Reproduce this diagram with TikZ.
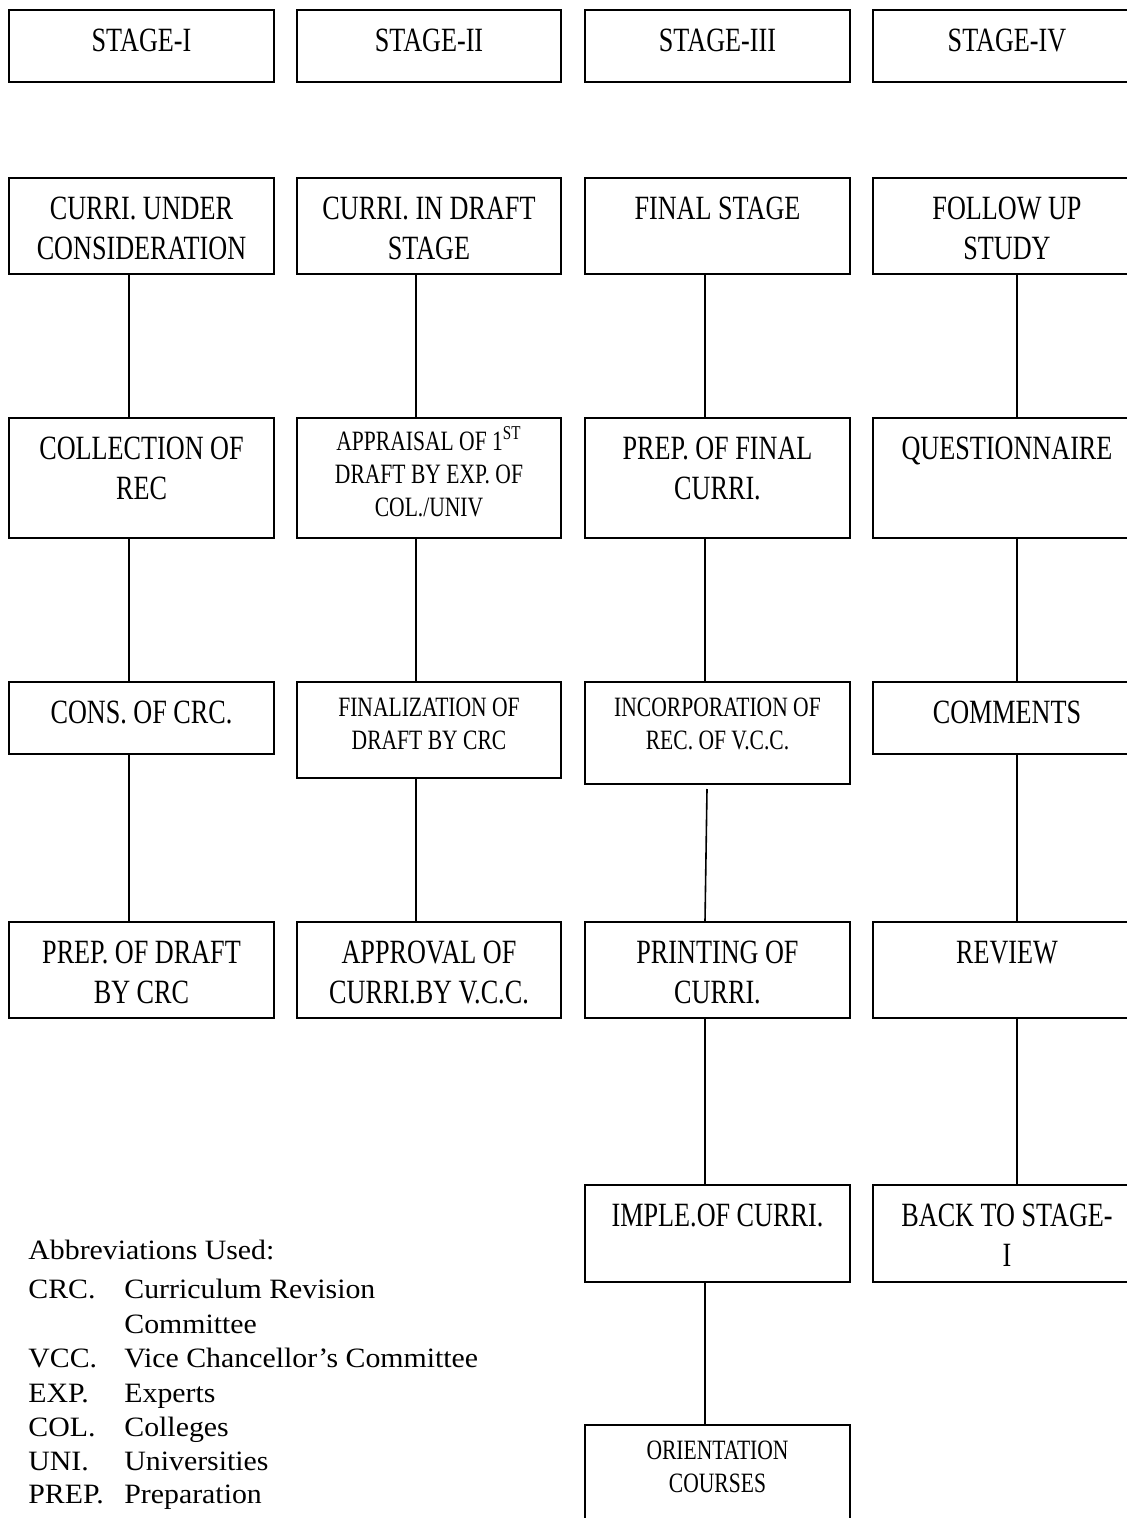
\documentclass[tikz,border=0pt]{standalone}
\usepackage{fontspec}
\setmainfont{Liberation Serif}
\newfontfamily\boxfam[FakeStretch=0.77]{Liberation Serif}
\newfontfamily\abbrfam[FakeStretch=1.065]{Liberation Serif}
\newcommand\bigf{\boxfam\fontsize{17pt}{20pt}\selectfont}
\newcommand\smallf{\boxfam\fontsize{14pt}{16.5pt}\selectfont}
\newcommand\abbf{\abbrfam\fontsize{14pt}{17pt}\selectfont}
\newcommand\bt[1]{\parbox[t]{130pt}{\centering\bigf\strut #1}}
\newcommand\st[1]{\parbox[t]{130pt}{\centering\smallf\strut #1}}
\tikzset{
  box/.style={draw, line width=1pt, inner sep=0pt, anchor=north west},
  wa/.style={minimum width=132.5pt},
  wb/.style={minimum width=132pt},
  wc/.style={minimum width=132.5pt},
  wd/.style={minimum width=134pt},
  La/.style={text height=20.6pt, text depth=15.4pt},
  Lb/.style={text height=20.6pt, text depth=27.4pt},
  Lc/.style={text height=20.6pt, text depth=39.4pt},
  Ld/.style={text height=20.6pt, text depth=27.9pt},
  Sa/.style={text height=17.1pt, text depth=30.9pt},
  Sb/.style={text height=17.1pt, text depth=33.9pt},
  Sc/.style={text height=16.1pt, text depth=43.9pt},
  Sd/.style={text height=17.1pt, text depth=50.9pt},
  conn/.style={line width=0.8pt},
  abbr/.style={anchor=base west, inner sep=0pt, font=\abbf}
}
\begin{document}
\begin{tikzpicture}[x=0.5pt, y=-0.5pt]
\path[use as bounding box, clip] (0,0) rectangle (1127,1518);
% row 0
\node[box, wa, La] (c1r0) at (8,9) {\bt{STAGE-I}};
\node[box, wb, La] (c2r0) at (296,9) {\bt{STAGE-II}};
\node[box, wc, La] (c3r0) at (584,9) {\bt{STAGE-III}};
\node[box, wd, La] (c4r0) at (872,9) {\bt{STAGE-IV}};
% row 1
\node[box, wa, Lb] (c1r1) at (8,177) {\bt{CURRI. UNDER\\CONSIDERATION}};
\node[box, wb, Lb] (c2r1) at (296,177) {\bt{CURRI. IN DRAFT\\STAGE}};
\node[box, wc, Lb] (c3r1) at (584,177) {\bt{FINAL STAGE}};
\node[box, wd, Lb] (c4r1) at (872,177) {\bt{FOLLOW UP\\STUDY}};
% row 2
\node[box, wa, Lc] (c1r2) at (8,417) {\bt{COLLECTION OF\\REC}};
\node[box, wb, Sc] (c2r2) at (296,417) {\st{APPRAISAL OF 1\textsuperscript{ST}\\DRAFT BY EXP. OF\\COL./UNIV}};
\node[box, wc, Lc] (c3r2) at (584,417) {\bt{PREP. OF FINAL\\CURRI.}};
\node[box, wd, Lc] (c4r2) at (872,417) {\bt{QUESTIONNAIRE}};
% row 3
\node[box, wa, La] (c1r3) at (8,681) {\bt{CONS. OF CRC.}};
\node[box, wb, Sa] (c2r3) at (296,681) {\st{FINALIZATION OF\\DRAFT BY CRC}};
\node[box, wc, Sb] (c3r3) at (584,681) {\st{INCORPORATION OF\\REC. OF V.C.C.}};
\node[box, wd, La] (c4r3) at (872,681) {\bt{COMMENTS}};
% row 4
\node[box, wa, Lb] (c1r4) at (8,921) {\bt{PREP. OF DRAFT\\BY CRC}};
\node[box, wb, Lb] (c2r4) at (296,921) {\bt{APPROVAL OF\\CURRI.BY V.C.C.}};
\node[box, wc, Lb] (c3r4) at (584,921) {\bt{PRINTING OF\\CURRI.}};
\node[box, wd, Lb] (c4r4) at (872,921) {\bt{REVIEW}};
% row 5
\node[box, wc, Ld] (c3r5) at (584,1184) {\bt{IMPLE.OF CURRI.}};
\node[box, wd, Ld] (c4r5) at (872,1184) {\bt{BACK TO STAGE-\\I}};
% row 6
\node[box, wc, Sd] (c3r6) at (584,1424) {\st{ORIENTATION\\COURSES}};
% connector columns
\coordinate (v1) at (129,0);
\coordinate (v2) at (416,0);
\coordinate (v3) at (705,0);
\coordinate (v4) at (1017,0);
\coordinate (v3top) at (707,789);
\draw[conn] (c1r1.south -| v1) -- (c1r2.north -| v1);
\draw[conn] (c1r2.south -| v1) -- (c1r3.north -| v1);
\draw[conn] (c1r3.south -| v1) -- (c1r4.north -| v1);
\draw[conn] (c2r1.south -| v2) -- (c2r2.north -| v2);
\draw[conn] (c2r2.south -| v2) -- (c2r3.north -| v2);
\draw[conn] (c2r3.south -| v2) -- (c2r4.north -| v2);
\draw[conn] (c3r1.south -| v3) -- (c3r2.north -| v3);
\draw[conn] (c3r2.south -| v3) -- (c3r3.north -| v3);
\draw[conn] (v3top) -- (c3r4.north -| v3);
\draw[conn] (c3r4.south -| v3) -- (c3r5.north -| v3);
\draw[conn] (c3r5.south -| v3) -- (c3r6.north -| v3);
\draw[conn] (c4r1.south -| v4) -- (c4r2.north -| v4);
\draw[conn] (c4r2.south -| v4) -- (c4r3.north -| v4);
\draw[conn] (c4r3.south -| v4) -- (c4r4.north -| v4);
\draw[conn] (c4r4.south -| v4) -- (c4r5.north -| v4);
% abbreviations
\node[abbr] (ab0) at (28,1259) {Abbreviations Used:};
\node[abbr] (ab1) at (28,1298) {CRC.};
\node[abbr] (ab1d) at (124,1298) {Curriculum Revision};
\node[abbr] (ab1e) at (124,1333) {Committee};
\node[abbr] (ab2) at (28,1367) {VCC.};
\node[abbr] (ab2d) at (124,1367) {Vice Chancellor’s Committee};
\node[abbr] (ab3) at (28,1402) {EXP.};
\node[abbr] (ab3d) at (124,1402) {Experts};
\node[abbr] (ab4) at (28,1436) {COL.};
\node[abbr] (ab4d) at (124,1436) {Colleges};
\node[abbr] (ab5) at (28,1470) {UNI.};
\node[abbr] (ab5d) at (124,1470) {Universities};
\node[abbr] (ab6) at (28,1503) {PREP.};
\node[abbr] (ab6d) at (124,1503) {Preparation};
\end{tikzpicture}
\end{document}
